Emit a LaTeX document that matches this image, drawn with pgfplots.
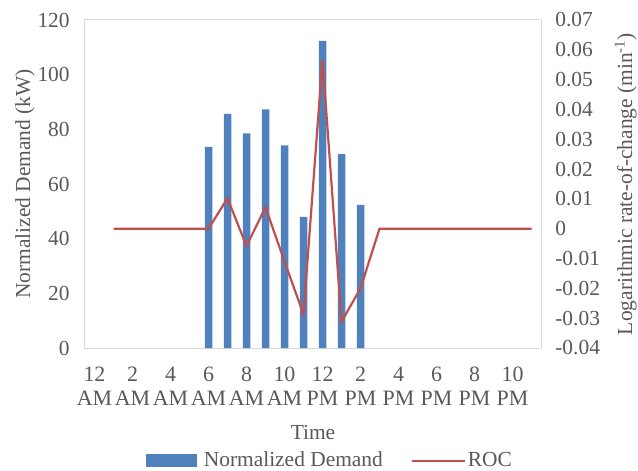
\documentclass[border=0pt]{standalone}
\usepackage{fontspec}
\setmainfont{Liberation Serif}
\usepackage{pgfplots}
\pgfplotsset{compat=1.18}
\definecolor{barblue}{HTML}{4F81BD}
\definecolor{rocred}{HTML}{C0504D}
\definecolor{txt}{HTML}{595959}
\definecolor{frame}{HTML}{D9D9D9}
\begin{document}
\fontsize{21.5}{24}\selectfont
\begin{tikzpicture}
\pgfplotsset{
  common/.style={
    scale only axis, width=456bp, height=328bp,
    xmin=-0.5, xmax=23.5,
    major tick length=0pt,
    scaled y ticks=false,
    tick label style={font=\fontsize{21.5}{24}\selectfont, text=txt},
    label style={font=\fontsize{21.5}{24}\selectfont, text=txt},
  }
}
\begin{axis}[common,
  axis line style={frame, line width=1bp},
  ymin=0, ymax=120, ytick={0,20,40,60,80,100,120},
  yticklabels={0,20,40,60,80,100,120},
  xtick={0,2,...,22},
  xticklabels={12\\AM,2\\AM,4\\AM,6\\AM,8\\AM,10\\AM,12\\PM,2\\PM,4\\PM,6\\PM,8\\PM,10\\PM},
  xticklabel style={align=center, yshift=-12bp, font=\fontsize{22}{24}\selectfont},
  yticklabel style={xshift=-8bp},
  xlabel={Time}, xlabel style={at={(axis description cs:0.5,-0.258)}, anchor=center},
  ylabel={Normalized Demand (kW)}, ylabel style={at={(axis description cs:-0.1316,0.5)}, anchor=center},
]
\addplot[ybar, bar width=7.5bp, fill=barblue, draw=none] coordinates {
(6,73.6) (7,85.7) (8,78.5) (9,87.3) (10,74.1) (11,48.0) (12,112.4) (13,70.9) (14,52.4)};
\end{axis}
\begin{axis}[common,
  axis x line=none, axis y line*=right,
  axis line style={frame, line width=1bp},
  ymin=-0.04, ymax=0.07,
  ytick={-0.04,-0.03,-0.02,-0.01,0,0.01,0.02,0.03,0.04,0.05,0.06,0.07},
  yticklabels={-0.04,-0.03,-0.02,-0.01,0,0.01,0.02,0.03,0.04,0.05,0.06,0.07},
  yticklabel style={xshift=7bp},
  ylabel={Logarithmic rate-of-change (min\textsuperscript{-1})},
  ylabel style={at={(axis description cs:1.186,0.5)}, anchor=center},
  legend style={at={(axis description cs:0.537,-0.3445)}, anchor=center, draw=none,
    legend columns=2, font=\fontsize{21.5}{24}\selectfont, text=txt,
    /tikz/every even column/.append style={column sep=26bp}},
]
\addlegendimage{legend image code/.code={\fill[barblue, draw=none] (0bp,-6.5bp) rectangle (51bp,6.5bp); \path[draw=none, fill=none] (0bp,0bp) rectangle (56bp,0.1bp);}}
\addlegendentry{Normalized Demand}
\addplot[rocred, line width=2.2bp, mark=none,
  legend image code/.code={\draw[rocred, line width=2bp] (0bp,0bp)--(53bp,0bp);}] coordinates {
(1,0) (2,0) (3,0) (4,0) (5,0) (6,0) (7,0.0102) (8,-0.0058) (9,0.0072) (10,-0.011)
(11,-0.0287) (12,0.0568) (13,-0.0312) (14,-0.020) (15,0) (16,0) (17,0) (18,0)
(19,0) (20,0) (21,0) (22,0) (23,0)};
\addlegendentry{ROC}
\end{axis}
\pgfresetboundingbox
\useasboundingbox (-85bp,-123bp) rectangle (553bp,348bp);
\end{tikzpicture}
\end{document}
